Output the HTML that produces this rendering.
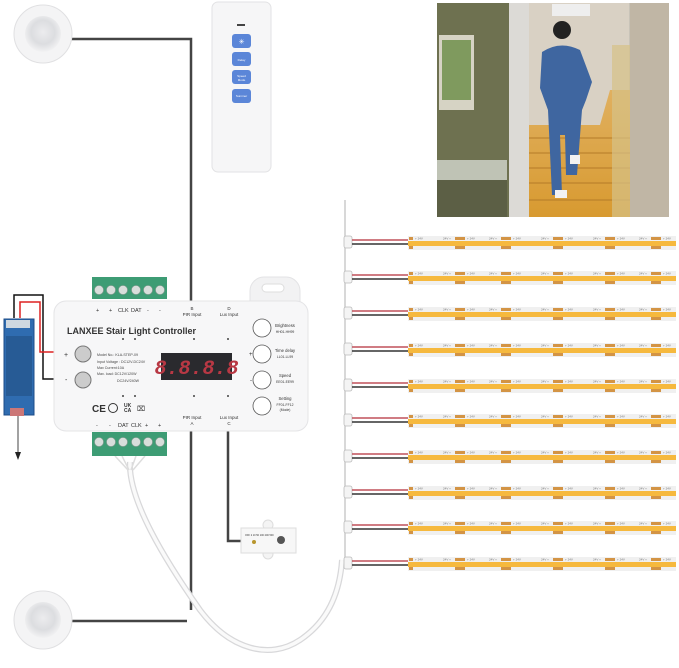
<!DOCTYPE html>
<html><head><meta charset="utf-8"><style>
html,body{margin:0;padding:0;background:#fff;}
body{width:679px;height:663px;overflow:hidden;font-family:"Liberation Sans",sans-serif;}
</style></head><body>
<svg width="679" height="663" viewBox="0 0 679 663" xmlns="http://www.w3.org/2000/svg" font-family="Liberation Sans, sans-serif">
<defs>
<radialGradient id="sens" cx="50%" cy="45%" r="55%"><stop offset="0" stop-color="#ececee"/><stop offset="0.6" stop-color="#dcdde0"/><stop offset="1" stop-color="#f2f2f3"/></radialGradient>
<linearGradient id="stair" x1="0" y1="0" x2="0" y2="1"><stop offset="0" stop-color="#e0b060"/><stop offset="1" stop-color="#d89a30"/></linearGradient>
<g id="strip">
<rect x="0" y="-6" width="268" height="14" fill="#f0f0f0"/>
<rect x="0" y="-1" width="268" height="5" fill="#f6b93e"/>
<g fill="#d39445"><rect x="1" y="-5" width="4" height="3"/><rect x="1" y="4" width="4" height="3"/>
<rect x="47" y="-5" width="10" height="3"/><rect x="47" y="4" width="10" height="3"/>
<rect x="93" y="-5" width="10" height="3"/><rect x="93" y="4" width="10" height="3"/>
<rect x="145" y="-5" width="10" height="3"/><rect x="145" y="4" width="10" height="3"/>
<rect x="197" y="-5" width="10" height="3"/><rect x="197" y="4" width="10" height="3"/>
<rect x="243" y="-5" width="10" height="3"/><rect x="243" y="4" width="10" height="3"/></g>
<g font-size="3" fill="#777"><text x="7" y="-2.5">+ 24V</text><text x="35" y="-2.5">24V +</text><text x="59" y="-2.5">+ 24V</text><text x="81" y="-2.5">24V +</text><text x="105" y="-2.5">+ 24V</text><text x="133" y="-2.5">24V +</text><text x="157" y="-2.5">+ 24V</text><text x="185" y="-2.5">24V +</text><text x="209" y="-2.5">+ 24V</text><text x="231" y="-2.5">24V +</text><text x="255" y="-2.5">+ 24V</text></g>
<rect x="-64" y="-6" width="8" height="12" rx="2" fill="#f4f4f4" stroke="#bbb" stroke-width="0.8"/>
<line x1="-56" y1="-2" x2="0" y2="-2" stroke="#c0505a" stroke-width="1.5"/>
<line x1="-56" y1="2" x2="0" y2="2" stroke="#333" stroke-width="1.5"/>
</g>
</defs>

<polyline points="70,39 191,39 191,610" fill="none" stroke="#444" stroke-width="2.5"/>
<polyline points="70,621 187,621" fill="none" stroke="#444" stroke-width="2.5"/>
<polyline points="228,430 228,541 243,541" fill="none" stroke="#444" stroke-width="2.5"/>
<line x1="345" y1="200" x2="345" y2="560" stroke="#ccc" stroke-width="1.5"/>

<path d="M130,462 C128,500 165,560 200,610 C230,650 270,660 300,640 C330,620 340,590 342,560" fill="none" stroke="#d8d8da" stroke-width="6"/>
<path d="M130,462 C128,500 165,560 200,610 C230,650 270,660 300,640 C330,620 340,590 342,560" fill="none" stroke="#fafafa" stroke-width="3.5"/>
<path d="M115,456 L128,470 M122,456 L129,470 M136,456 L131,470 M145,456 L133,470" stroke="#ddd" stroke-width="1.5"/>

<circle cx="43" cy="34" r="29" fill="#f4f4f5" stroke="#e0e0e2"/>
<circle cx="43" cy="34" r="18" fill="url(#sens)"/>
<circle cx="43" cy="620" r="29" fill="#f4f4f5" stroke="#e0e0e2"/>
<circle cx="43" cy="620" r="18" fill="url(#sens)"/>

<rect x="212" y="2" width="59" height="170" rx="6" fill="#f6f6f7" stroke="#e2e2e4"/>
<rect x="237" y="24" width="8" height="2" fill="#444"/>
<g fill="#5b86d8">
<rect x="232" y="34" width="19" height="14" rx="3"/><rect x="232" y="52" width="19" height="14" rx="3"/>
<rect x="232" y="70" width="19" height="14" rx="3"/><rect x="232" y="89" width="19" height="14" rx="3"/></g>
<text x="241.5" y="44" font-size="7" fill="#fff" text-anchor="middle">✳</text>
<g font-size="3" fill="#fff" text-anchor="middle"><text x="241.5" y="61">Delay</text><text x="241.5" y="77">Speed</text><text x="241.5" y="81">Mode</text><text x="241.5" y="97">Summer</text></g>

<rect x="437" y="3" width="232" height="214" fill="#c8c3b8"/>
<rect x="437" y="3" width="73" height="214" fill="#6e7150"/>
<rect x="439" y="35" width="35" height="75" fill="#d6d3c4"/>
<rect x="442" y="40" width="29" height="60" fill="#7f9a5e"/>
<rect x="437" y="160" width="70" height="57" fill="#5c5f45"/>
<rect x="437" y="160" width="70" height="20" fill="#bfc3b5"/>
<rect x="509" y="3" width="20" height="214" fill="#dcdad6"/>
<rect x="529" y="3" width="100" height="214" fill="#d9d1c4"/>
<rect x="552" y="4" width="38" height="12" fill="#eee"/>
<polygon points="529,125 600,125 610,90 630,90 630,217 529,217" fill="url(#stair)"/>
<g stroke="#b47a28" stroke-width="1"><line x1="529" y1="138" x2="630" y2="138"/><line x1="529" y1="153" x2="630" y2="153"/><line x1="529" y1="168" x2="630" y2="168"/><line x1="529" y1="183" x2="630" y2="183"/><line x1="529" y1="200" x2="630" y2="200"/></g>
<rect x="612" y="45" width="22" height="172" fill="#d6c288" opacity="0.7"/>
<rect x="630" y="3" width="39" height="214" fill="#c0b6a5"/>
<path d="M542,52 Q560,40 580,50 L592,82 L586,100 L582,110 L577,175 L566,175 L565,135 L560,135 L562,195 L552,195 L548,110 L540,88 Z" fill="#3f66a0"/>
<circle cx="562" cy="30" r="9" fill="#222"/>
<rect x="555" y="190" width="12" height="8" fill="#f2f2f2"/><rect x="570" y="155" width="10" height="9" fill="#f2f2f2"/>

<use href="#strip" x="408" y="242"/><use href="#strip" x="408" y="277"/><use href="#strip" x="408" y="313"/>
<use href="#strip" x="408" y="349"/><use href="#strip" x="408" y="385"/><use href="#strip" x="408" y="420"/>
<use href="#strip" x="408" y="456"/><use href="#strip" x="408" y="492"/><use href="#strip" x="408" y="527"/>
<use href="#strip" x="408" y="563"/>

<polyline points="14,318 14,295 43,295 43,379 55,379" fill="none" stroke="#111" stroke-width="1.5"/>
<polyline points="20,318 20,302 40,302 40,352 55,352" fill="none" stroke="#d22" stroke-width="1.5"/>
<rect x="4" y="319" width="30" height="96" fill="#2f6cb0" stroke="#1c4c88"/>
<rect x="6" y="320" width="24" height="8" fill="#cfd8e0"/>
<rect x="6" y="336" width="26" height="60" fill="#26578f" opacity="0.8"/>
<rect x="10" y="408" width="14" height="8" fill="#c77"/>
<line x1="18" y1="416" x2="18" y2="455" stroke="#444"/>
<polygon points="15,452 21,452 18,460" fill="#222"/>

<rect x="250" y="277" width="50" height="40" rx="14" fill="#f2f2f3" stroke="#e3e3e5"/>
<rect x="262" y="284" width="22" height="8" rx="4" fill="#fff" stroke="#ddd"/>
<rect x="92" y="277" width="75" height="22" fill="#3d9c74"/>
<rect x="92" y="432" width="75" height="24" fill="#3d9c74"/>
<g fill="#d8dedb" stroke="#8a9a92" stroke-width="0.6">
<circle cx="99" cy="290" r="4.5"/><circle cx="111" cy="290" r="4.5"/><circle cx="123" cy="290" r="4.5"/><circle cx="136" cy="290" r="4.5"/><circle cx="148" cy="290" r="4.5"/><circle cx="160" cy="290" r="4.5"/>
<circle cx="99" cy="442" r="4.5"/><circle cx="111" cy="442" r="4.5"/><circle cx="123" cy="442" r="4.5"/><circle cx="136" cy="442" r="4.5"/><circle cx="148" cy="442" r="4.5"/><circle cx="160" cy="442" r="4.5"/></g>
<rect x="54" y="301" width="254" height="130" rx="12" fill="#f7f7f8" stroke="#e4e4e6"/>
<g font-size="5.5" fill="#333"><text x="96" y="312">+</text><text x="109" y="312">+</text><text x="118" y="312">CLK</text><text x="131" y="312">DAT</text><text x="147" y="312">-</text><text x="159" y="312">-</text>
<text x="96" y="427">-</text><text x="109" y="427">-</text><text x="118" y="427">DAT</text><text x="131" y="427">CLK</text><text x="145" y="427">+</text><text x="158" y="427">+</text></g>
<g font-size="4.5" fill="#333" text-anchor="middle"><text x="192" y="310">B</text><text x="192" y="316">PIR  Input</text><text x="229" y="310">D</text><text x="229" y="316">Lux Input</text>
<text x="192" y="419">PIR  Input</text><text x="192" y="425">A</text><text x="229" y="419">Lux Input</text><text x="229" y="425">C</text></g>
<text x="67" y="334" font-size="9" font-weight="bold" fill="#333">LANXEE Stair Light Controller</text>
<g fill="#444"><circle cx="123" cy="339" r="1"/><circle cx="135" cy="339" r="1"/><circle cx="194" cy="339" r="1"/><circle cx="228" cy="339" r="1"/>
<circle cx="123" cy="396" r="1"/><circle cx="135" cy="396" r="1"/><circle cx="194" cy="396" r="1"/><circle cx="228" cy="396" r="1"/></g>
<text x="64" y="357" font-size="7" fill="#333">+</text><text x="65" y="382" font-size="7" fill="#333">-</text>
<circle cx="83" cy="354" r="8" fill="#ccc" stroke="#777"/><circle cx="83" cy="380" r="8" fill="#ccc" stroke="#777"/>
<g font-size="3.6" fill="#444"><text x="97" y="356">Model No.: KLA-STEP-09</text><text x="97" y="363">Input Voltage : DC12V-DC24V</text><text x="97" y="369">Max Current:10A</text><text x="97" y="375">Max. load: DC12V/120W</text><text x="117" y="382">DC24V/240W</text></g>
<rect x="161" y="353" width="71" height="27" fill="#2a2a2e"/>
<text x="196.5" y="374" font-size="20" font-family="Liberation Mono, monospace" font-weight="bold" fill="#b83844" text-anchor="middle" font-style="italic">8.8.8.8</text>
<text x="92" y="412" font-size="10" fill="#333" font-weight="bold">CE</text>
<circle cx="113" cy="408" r="4.5" fill="none" stroke="#333"/>
<text x="124" y="407" font-size="5" fill="#333" font-weight="bold">UK</text><text x="124" y="412" font-size="5" fill="#333" font-weight="bold">CA</text>
<text x="137" y="411" font-size="7" fill="#333">⌧</text>
<g fill="#fff" stroke="#555" stroke-width="0.8"><circle cx="262" cy="328" r="9"/><circle cx="262" cy="354" r="9"/><circle cx="262" cy="380" r="9"/><circle cx="262" cy="406" r="9"/></g>
<text x="249" y="356" font-size="6" fill="#333">+</text><text x="250" y="382" font-size="6" fill="#333">-</text>
<g font-size="4.2" fill="#333" text-anchor="middle"><text x="285" y="327">Brightness</text><text x="285" y="333" font-size="3.4">HH01-HH99</text>
<text x="285" y="352">Time delay</text><text x="285" y="358" font-size="3.4">LL01-LL99</text>
<text x="285" y="377">Speed</text><text x="285" y="383" font-size="3.4">EE01-EE99</text>
<text x="285" y="400">Setting</text><text x="285" y="406" font-size="3.4">FF01-FF12</text><text x="285" y="411" font-size="3.4">(Mode)</text></g>

<circle cx="268" cy="525" r="5" fill="#f4f4f4" stroke="#ddd"/><circle cx="268" cy="554" r="5" fill="#f4f4f4" stroke="#ddd"/>
<rect x="241" y="528" width="55" height="25" fill="#f7f7f7" stroke="#ddd"/>
<g font-size="2.5" fill="#333"><text x="245" y="536">OFF  2   10  50  100 200 500</text></g>
<circle cx="254" cy="542" r="2" fill="#b8962e"/>
<circle cx="281" cy="540" r="4" fill="#555"/>
</svg>
</body></html>
